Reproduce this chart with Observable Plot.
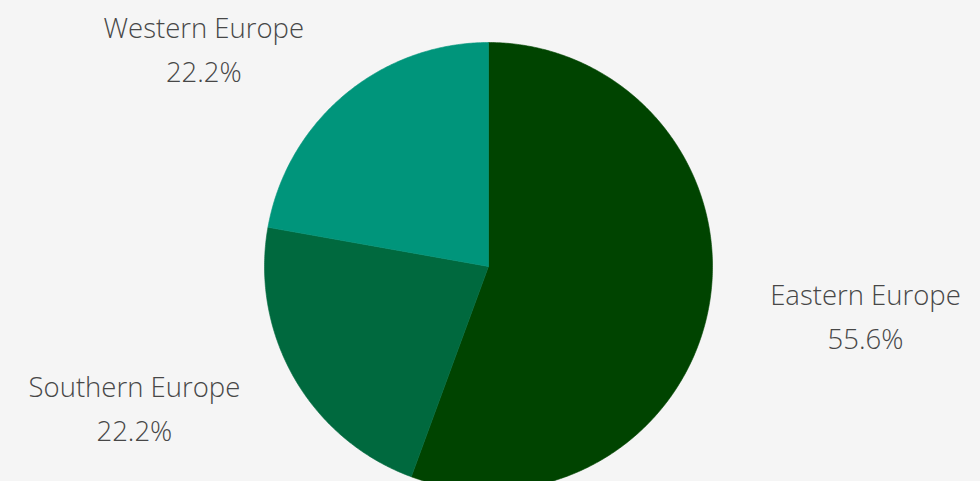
<!DOCTYPE html>
<html>
<head>
<meta charset="utf-8">
<script src="https://cdn.jsdelivr.net/npm/d3@7"></script>
<script src="https://cdn.jsdelivr.net/npm/@observablehq/plot@0.6"></script>
<style>
  html, body { margin: 0; padding: 0; background: #f5f5f5; }
  #chart svg { display: block; }
</style>
</head>
<body>
<div id="chart"></div>
<script>
// ---- data ----
const regions = ["Eastern Europe", "Southern Europe", "Western Europe"];
const shares = [55.6, 22.2, 22.2];
const colors = ["#004400", "#00693e", "#00957b"];

// ---- layout ----
const W = 980, H = 481;
const R = 224;            // radius in px
const CX = 488, CY = 266; // centre in px
const FONT_SIZE = 27.5;
const FONT_FAMILY = "'Open Sans', Lato, sans-serif";
const FONT_WEIGHT = 300;

const total = d3.sum(shares);
let acc = 0;
const slices = regions.map((name, i) => {
  const a0 = acc / total * 2 * Math.PI;
  acc += shares[i];
  const a1 = acc / total * 2 * Math.PI;
  return {name, value: shares[i], a0, a1, color: colors[i]};
});

// polygon points for each slice (angle from 12 o'clock, clockwise)
const pts = [];
for (const s of slices) {
  pts.push({name: s.name, x: 0, y: 0});
  const n = Math.max(2, Math.ceil((s.a1 - s.a0) / (Math.PI / 360)));
  for (let k = 0; k <= n; k++) {
    const a = s.a0 + (s.a1 - s.a0) * k / n;
    pts.push({name: s.name, x: Math.sin(a), y: Math.cos(a)});
  }
  pts.push({name: s.name, x: 0, y: 0});
}

// label positions
const ctx = document.createElement("canvas").getContext("2d");
ctx.font = `${FONT_WEIGHT} ${FONT_SIZE}px ${FONT_FAMILY}`;
const labelR = 1.268, gap = 2 / R, lift = 3 / R;
const labels = slices.map(s => {
  const a = (s.a0 + s.a1) / 2;
  const side = Math.sin(a) >= 0 ? 1 : -1;
  const pct = s.value.toFixed(1) + "%";
  const w = Math.max(ctx.measureText(s.name).width, ctx.measureText(pct).width) / R;
  return {
    text: s.name + "\n" + pct,
    x: labelR * Math.sin(a) + side * (gap + w / 2),
    y: labelR * Math.cos(a) + lift
  };
});

const chart = Plot.plot({
  width: W,
  height: H,
  margin: 0,
  style: {background: "#f5f5f5", overflow: "visible"},
  x: {domain: [-CX / R, (W - CX) / R], axis: null},
  y: {domain: [-(H - CY) / R, CY / R], axis: null},
  color: {domain: regions, range: colors},
  marks: [
    Plot.line(pts, {x: "x", y: "y", z: "name", fill: "name", stroke: "name", strokeWidth: 0.6, curve: "linear"}),
    Plot.text(labels, {
      x: "x", y: "y", text: "text",
      textAnchor: "middle", lineAnchor: "middle", lineHeight: 44 / FONT_SIZE,
      fontSize: FONT_SIZE, fontFamily: FONT_FAMILY, fontWeight: FONT_WEIGHT,
      fill: "#474747"
    })
  ]
});
document.getElementById("chart").appendChild(chart);
</script>
</body>
</html>
